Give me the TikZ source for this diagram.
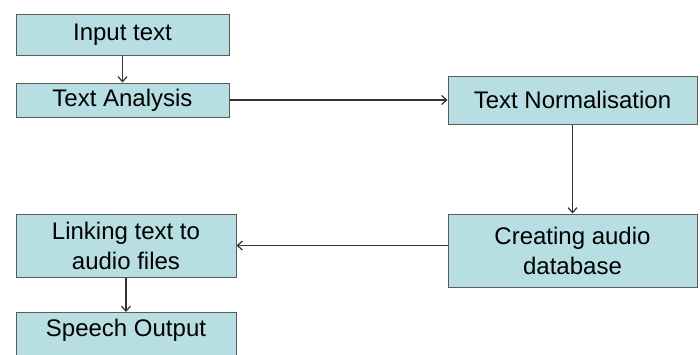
\documentclass[tikz,border=0pt]{standalone}
\usepackage{fontspec}
\setmainfont{Liberation Sans}
\usetikzlibrary{arrows.meta}
\definecolor{boxfill}{HTML}{B7DEE2}
\definecolor{boxline}{HTML}{5A5A5A}
\definecolor{conn}{HTML}{333333}
\begin{document}
\begin{tikzpicture}[x=1pt,y=-1pt,
  box/.style={draw=boxline,line width=1pt,fill=boxfill,inner sep=0pt,
    font=\fontsize{24}{30}\selectfont,align=center},
  conn/.style={draw=conn,line width=1.2pt,-{Straight Barb[length=5pt,width=9pt]}}]
\useasboundingbox (0,0) rectangle (700,354);
\begin{scope}
\clip (0,0) rectangle (700,354);
\node[box,minimum width=213pt,minimum height=41pt] (input) at (122.5,34.5) {Input text};
\node[box,minimum width=213pt,minimum height=34pt] (analysis) at (122.5,100) {Text Analysis};
\node[box,minimum width=249pt,minimum height=48pt] (norm) at (572.5,100) {Text Normalisation};
\node[box,minimum width=249pt,minimum height=73pt] (audio) at (572.5,250.5) {Creating audio\\database};
\node[box,minimum width=220pt,minimum height=63pt] (link) at (126,245.5) {Linking text to\\audio files};
\node[box,minimum width=220pt,minimum height=50pt,anchor=north] (speech) at (126,312) {};
\node[font=\fontsize{24}{30}\selectfont] (speechtext) at (126,330) {Speech Output};
\end{scope}
\draw[conn] (input) -- (analysis);
\draw[conn] (analysis) -- (norm);
\draw[conn] (norm) -- (audio);
\draw[conn] (audio.west |- link.east) -- (link.east);
\draw[conn] (link) -- (speech);
\end{tikzpicture}
\end{document}
